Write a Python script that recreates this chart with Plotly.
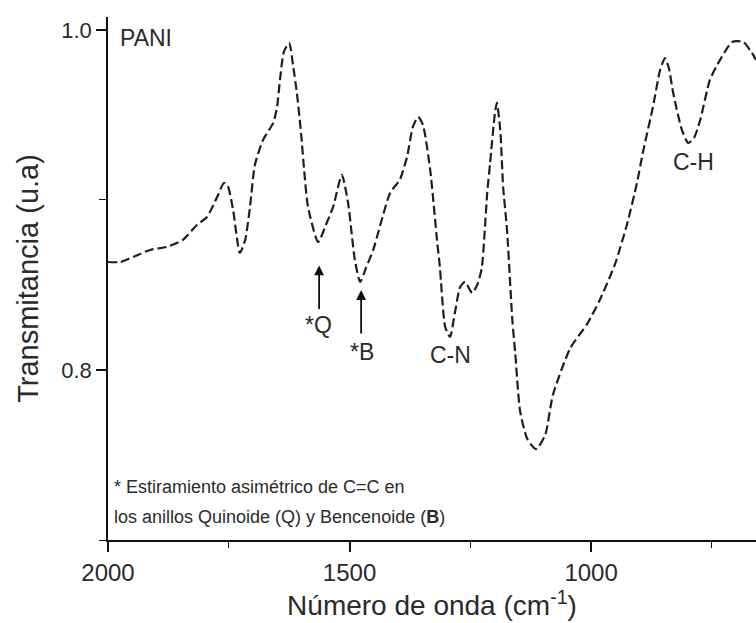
import plotly.graph_objects as go

# FTIR spectrum of PANI: wavenumber (cm-1) vs transmittance (a.u.)
wavenumber = [2000, 1975, 1948, 1913, 1878, 1845, 1816, 1795, 1774, 1760,
              1752, 1741, 1727, 1716, 1706, 1696, 1679, 1658, 1650, 1644,
              1636, 1625, 1617, 1609, 1600, 1594, 1586, 1565, 1549, 1534,
              1516, 1503, 1489, 1478, 1466, 1451, 1416, 1396, 1381, 1369,
              1358, 1348, 1333, 1319, 1313, 1302, 1292, 1282, 1271, 1261,
              1246, 1234, 1226, 1215, 1209, 1199, 1195, 1188, 1182, 1174,
              1163, 1157, 1147, 1132, 1114, 1095, 1079, 1043, 1008, 982,
              951, 926, 905, 893, 872, 857, 847, 839, 830, 812,
              799, 787, 774, 754, 733, 708, 685, 667, 659]
transmittance = [0.8635, 0.8635, 0.8665, 0.8706, 0.8724, 0.8765, 0.8853, 0.8900, 0.9018, 0.9100,
                 0.9082, 0.8941, 0.8688, 0.8765, 0.8959, 0.9206, 0.9353, 0.9453, 0.9547, 0.9706,
                 0.9871, 0.9924, 0.9794, 0.9629, 0.9382, 0.9176, 0.8959, 0.8753, 0.8853, 0.8959,
                 0.9147, 0.8982, 0.8647, 0.8518, 0.8600, 0.8706, 0.9041, 0.9118, 0.9253, 0.9429,
                 0.9488, 0.9441, 0.9176, 0.8765, 0.8606, 0.8253, 0.8194, 0.8335, 0.8488, 0.8518,
                 0.8453, 0.8512, 0.8606, 0.9041, 0.9218, 0.9512, 0.9571, 0.9412, 0.9076, 0.8824,
                 0.8294, 0.8100, 0.7759, 0.7594, 0.7535, 0.7618, 0.7853, 0.8129, 0.8271, 0.8412,
                 0.8618, 0.8853, 0.9100, 0.9276, 0.9547, 0.9765, 0.9835, 0.9776, 0.9629, 0.9412,
                 0.9335, 0.9365, 0.9471, 0.9706, 0.9824, 0.9929, 0.9929, 0.9865, 0.9824]

# Band labels: (text, wavenumber, transmittance)
band_labels = [("*Q", 1565, 0.8265), ("*B", 1474, 0.8106),
               ("C-N", 1292, 0.8088), ("C-H", 789, 0.9224)]
# Arrows marking the C=C stretching bands: (wavenumber, tip, tail)
band_arrows = [(1563, 0.8615, 0.8350), (1476, 0.8470, 0.8205)]

FONT = "Liberation Sans, Arial, sans-serif"
INK = "#2a2a2a"

fig = go.Figure()
fig.add_trace(go.Scatter(
    x=wavenumber, y=transmittance, mode="lines",
    line=dict(color="#1e1e1e", width=2.2, dash="9px,4px", shape="spline", smoothing=0.6),
    showlegend=False, hoverinfo="skip"))

for text, xv, yv in band_labels:
    fig.add_annotation(x=xv, y=yv, text=text, showarrow=False,
                       font=dict(family=FONT, size=23, color=INK))

for xv, tip, tail in band_arrows:
    fig.add_annotation(x=xv, y=tip, ax=xv, ay=tail, axref="x", ayref="y",
                       text="", showarrow=True, arrowhead=2, arrowsize=1.1,
                       arrowwidth=1.8, arrowcolor="#111")

fig.add_annotation(x=1979, y=0.9953, text="PANI", showarrow=False,
                   xanchor="left", font=dict(family=FONT, size=23, color=INK))
fig.add_annotation(x=1992, y=0.7312, text="* Estiramiento asimétrico de C=C en",
                   showarrow=False, xanchor="left",
                   font=dict(family=FONT, size=18, color=INK))
fig.add_annotation(x=1992, y=0.7135,
                   text="los anillos Quinoide (Q) y Bencenoide (<b>B</b>)",
                   showarrow=False, xanchor="left",
                   font=dict(family=FONT, size=18, color=INK))

fig.update_layout(
    width=756, height=623,
    margin=dict(l=108, r=0, t=17, b=83),
    paper_bgcolor="white", plot_bgcolor="white",
    font=dict(family=FONT, color=INK),
)
fig.update_xaxes(
    range=[2000, 658.6], showgrid=False, zeroline=False,
    showline=True, linecolor="#111", linewidth=1.6,
    tickmode="linear", tick0=1000, dtick=500,
    ticks="outside", ticklen=10, tickwidth=1.6, tickcolor="#111",
    minor=dict(dtick=250, tick0=750, ticks="outside", ticklen=6,
               tickwidth=1.4, tickcolor="#111"),
    tickfont=dict(family=FONT, size=24, color=INK),
    title=dict(text="Número de onda (cm<sup>-1</sup>)", standoff=4,
               font=dict(family=FONT, size=28, color=INK)),
)
fig.update_yaxes(
    range=[0.7, 1.0076], showgrid=False, zeroline=False,
    showline=True, linecolor="#111", linewidth=1.6,
    tickmode="linear", tick0=0.8, dtick=0.2, tickformat=".1f",
    ticks="outside", ticklen=10, tickwidth=1.6, tickcolor="#111",
    minor=dict(dtick=0.1, tick0=0.7, ticks="outside", ticklen=7,
               tickwidth=1.4, tickcolor="#111"),
    tickfont=dict(family=FONT, size=22, color=INK),
    title=dict(text="Transmitancia (u.a)", standoff=14,
               font=dict(family=FONT, size=29, color=INK)),
)

fig.write_html("out.html")
